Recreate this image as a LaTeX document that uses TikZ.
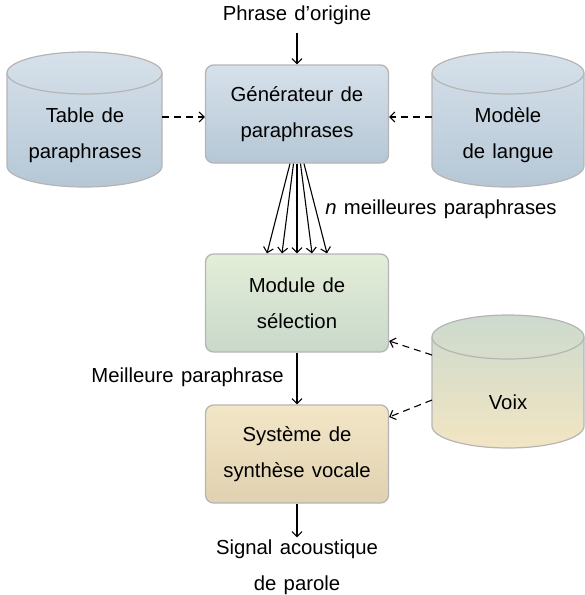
\documentclass[tikz,border=0pt]{standalone}
\usepackage{fontspec}
\setmainfont{Liberation Sans}[WordSpace=1.3]
\usetikzlibrary{arrows.meta}
\definecolor{bordergray}{HTML}{B5B5B5}
\definecolor{blueTop}{HTML}{D6E1EA}
\definecolor{blueBot}{HTML}{B5C7D6}
\definecolor{greenTop}{HTML}{E4EED8}
\definecolor{greenBot}{HTML}{C8D8CA}
\definecolor{tanTop}{HTML}{F3E6C7}
\definecolor{tanBot}{HTML}{E0D2B0}
\definecolor{voixTop}{HTML}{CCDACD}
\definecolor{voixBot}{HTML}{F2E5C3}
\begin{document}
\begin{tikzpicture}[x=1pt,y=-1pt,
  font=\fontsize{20.3}{36}\selectfont,
  procbox/.style={draw=bordergray, line width=1.3pt, rounded corners=8pt,
    minimum width=183pt, minimum height=98pt, align=center, inner sep=0pt},
  lbl/.style={align=center, inner sep=2pt},
  arr/.style={line width=1.1pt, -{Straight Barb[length=5pt,width=10pt]}},
  darr/.style={arr, dash pattern=on 7pt off 5pt},
  cylline/.style={draw=bordergray, line width=1.2pt}]
\useasboundingbox (0,0) rectangle (585,595);

% cylinders
\path[cylline, top color=blueTop, bottom color=blueBot]
  (7,73) -- (7,166) arc[start angle=180,end angle=360,x radius=77.5pt,y radius=21pt]
  -- (162,73) arc[start angle=0,end angle=180,x radius=77.5pt,y radius=21pt] -- cycle;
\draw[cylline] (7,73) arc[start angle=180,end angle=360,x radius=77.5pt,y radius=21pt];

\path[cylline, top color=blueTop, bottom color=blueBot]
  (432,73) -- (432,166) arc[start angle=180,end angle=360,x radius=76pt,y radius=21pt]
  -- (584,73) arc[start angle=0,end angle=180,x radius=76pt,y radius=21pt] -- cycle;
\draw[cylline] (432,73) arc[start angle=180,end angle=360,x radius=76pt,y radius=21pt];

\path[cylline, top color=voixTop, bottom color=voixBot]
  (432,337) -- (432,426) arc[start angle=180,end angle=360,x radius=76pt,y radius=22pt]
  -- (584,337) arc[start angle=0,end angle=180,x radius=76pt,y radius=22pt] -- cycle;
\draw[cylline] (432,337) arc[start angle=180,end angle=360,x radius=76pt,y radius=22pt];

\node[lbl] (tab) at (85,135) {Table de\\paraphrases};
\node[lbl] (lm) at (508,135) {Modèle\\de langue};
\node[lbl] (voix) at (508,402) {Voix};

% process boxes
\node[procbox, top color=blueTop, bottom color=blueBot] (gen) at (297,114) {Générateur de\\paraphrases};
\node[procbox, top color=greenTop, bottom color=greenBot] (mod) at (297,303) {Module de\\sélection};
\node[procbox, top color=tanTop, bottom color=tanBot] (syn) at (297,454) {Système de\\synthèse vocale};

% texts
\node[lbl] (src) at (297,15) {Phrase d’origine};
\node[lbl] (out) at (297,567) {Signal acoustique\\de parole};
\node[lbl] (nbest) at (441,209) {\textit{n} meilleures paraphrases};
\node[lbl, anchor=east] (best) at (286,377) {Meilleure paraphrase};

% connectors
\draw[arr, shorten <=6pt] (src.south) -- (gen.north);

\coordinate (tabR) at (162,117);
\coordinate (lmL) at (432,117);
\draw[darr] (tabR) -- (tabR -| gen.west);
\draw[darr] (lmL) -- (lmL -| gen.east);

\foreach \a/\b in {-7/-30, -3.5/-15, 0/0, 3.5/15, 7/30}
  \draw[arr] ([xshift=\a pt]gen.south) -- ([xshift=\b pt]mod.north);

\draw[arr] (mod.south) -- (syn.north);

\coordinate (voixA) at (432,355);
\coordinate (voixB) at (432,400);
\draw[darr] (voixA) -- ([yshift=-38pt]mod.east);
\draw[darr] (voixB) -- ([yshift=37pt]syn.east);

\draw[arr] (syn.south) -- (out.north);
\end{tikzpicture}
\end{document}
